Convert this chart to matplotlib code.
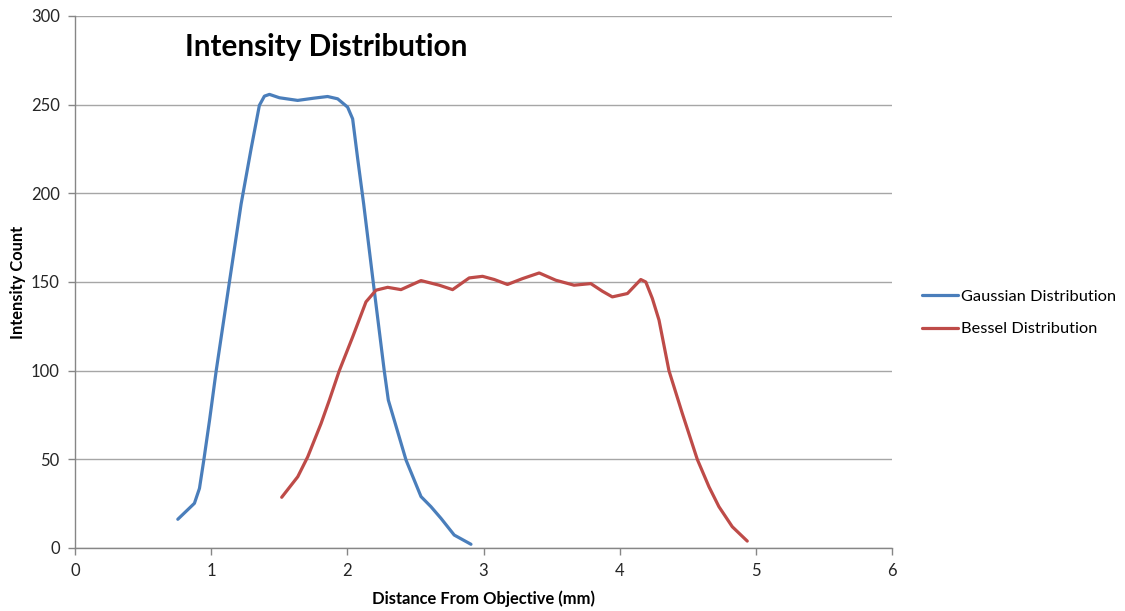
import matplotlib
matplotlib.use("Agg")
import matplotlib.pyplot as plt

plt.rcParams['font.family'] = ['Lato', 'DejaVu Sans']

# Data
gauss_x = [0.755, 0.877, 0.914, 0.946, 0.988, 1.037, 1.134, 1.22, 1.293, 1.354,
           1.391, 1.428, 1.501, 1.635, 1.758, 1.855, 1.929, 2.002, 2.039, 2.076, 2.12,
           2.19, 2.271, 2.301, 2.345, 2.431, 2.541, 2.614, 2.688, 2.785, 2.908]
gauss_y = [16.2, 25.2, 33.6, 49.6, 72, 100, 150, 194, 225, 249.6,
           254.8, 255.8, 253.9, 252.4, 253.7, 254.6, 253.3, 248.6, 242, 219.5, 194,
           150, 100, 83.4, 72, 49.6, 29, 23.3, 16.7, 7.3, 2.1]

bessel_x = [1.518, 1.636, 1.709, 1.807, 1.868, 1.941, 2.039, 2.137, 2.211, 2.296, 2.394,
            2.541, 2.675, 2.773, 2.895, 2.993, 3.079, 3.176, 3.286, 3.409, 3.531,
            3.665, 3.788, 3.873, 3.946, 4.057, 4.155, 4.192, 4.24, 4.289, 4.362,
            4.46, 4.57, 4.656, 4.729, 4.827, 4.937]
bessel_y = [28.6, 40.2, 51.4, 70.2, 83.4, 100, 119, 138.8, 145.4, 147, 145.7,
            150.8, 148.2, 145.7, 152.3, 153.2, 151.4, 148.6, 151.9, 155.1, 151,
            148.2, 149.1, 144.8, 141.6, 143.5, 151.4, 150, 140.7, 128.5, 100,
            75.9, 50, 34.5, 23.3, 12, 3.9]

x_ticks = [0, 1, 2, 3, 4, 5, 6]
y_ticks = [0, 50, 100, 150, 200, 250, 300]
series_names = ['Gaussian Distribution', 'Bessel Distribution']
title = 'Intensity Distribution'
x_label = 'Distance From Objective (mm)'
y_label = 'Intensity Count'

W, H = 1125, 611
fig = plt.figure(figsize=(W / 100, H / 100), dpi=100)
ax = fig.add_axes([75 / W, 1 - 548 / H, (892 - 75) / W, (548 - 16) / H])

ax.plot(gauss_x, gauss_y, color='#4A7EBB', lw=2.3, solid_joinstyle='round',
        solid_capstyle='round', label=series_names[0], zorder=3)
ax.plot(bessel_x, bessel_y, color='#BE4B48', lw=2.3, solid_joinstyle='round',
        solid_capstyle='round', label=series_names[1], zorder=3)

ax.set_xlim(0, 6)
ax.set_ylim(0, 300)
ax.set_xticks(x_ticks)
ax.set_yticks(y_ticks)
ax.grid(axis='y', color='#A6A6A6', lw=1.0)
ax.set_axisbelow(True)
for s in ['top', 'right']:
    ax.spines[s].set_visible(False)
for s in ['left', 'bottom']:
    ax.spines[s].set_color('#868686')
    ax.spines[s].set_linewidth(1.0)
ax.tick_params(axis='both', direction='out', length=5, width=1, color='#868686',
               labelsize=12, labelcolor='#262626')
ax.tick_params(axis='x', pad=6)
ax.tick_params(axis='y', pad=6)

fig.text(185 / W, 1 - 47 / H, title, fontsize=21.4, fontweight='bold',
         ha='left', va='center', color='black')
fig.text(483.5 / W, 1 - 599 / H, x_label, fontsize=11.9, fontweight='bold',
         ha='center', va='center')
fig.text(18 / W, 1 - 282 / H, y_label, fontsize=11.9, fontweight='bold',
         ha='center', va='center', rotation=90)

ax.legend(loc='center left', bbox_to_anchor=(922 / W, 1 - 313 / H),
          bbox_transform=fig.transFigure, frameon=False, fontsize=11.8,
          handlelength=2.2, handletextpad=0.2, labelspacing=1.1,
          borderaxespad=0, borderpad=0)

fig.savefig('out.png', dpi=100)
